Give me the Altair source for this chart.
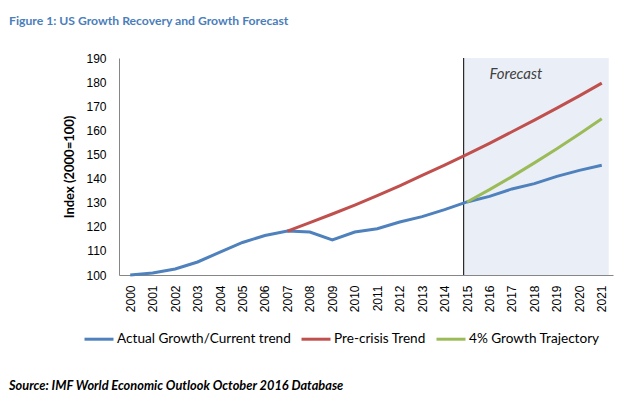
import altair as alt
import pandas as pd

years = list(range(2000, 2022))
actual = [100.0, 100.8, 102.5, 105.4, 109.5, 113.5, 116.4, 118.2, 117.8, 114.6, 117.8,
          119.2, 122.0, 124.2, 127.1, 130.3, 132.6, 135.7, 137.9, 140.9, 143.4, 145.5]
precrisis_years = list(range(2007, 2022))
precrisis = [118.2, 121.7, 125.3, 129.0, 132.9, 137.0, 141.3, 145.6, 150.0, 154.6,
             159.4, 164.2, 169.2, 174.3, 179.6]
growth_years = list(range(2015, 2022))
growth4 = [130.3, 135.4, 140.8, 146.5, 152.4, 158.5, 164.8]
y_ticks = list(range(100, 191, 10))

series_names = ["Actual Growth/Current trend", "Pre-crisis Trend", "4% Growth Trajectory"]
series_colors = ["#4F81BD", "#C0504D", "#9BBB59"]

title_text = "Figure 1: US Growth Recovery and Growth Forecast"
source_text = "Source: IMF World Economic Outlook October 2016 Database"
forecast_label = "Forecast"

rows = []
for y, v in zip(years, actual):
    rows.append({"year": y, "value": v, "series": series_names[0]})
for y, v in zip(precrisis_years, precrisis):
    rows.append({"year": y, "value": v, "series": series_names[1]})
for y, v in zip(growth_years, growth4):
    rows.append({"year": y, "value": v, "series": series_names[2]})
df = pd.DataFrame(rows)

FONT = "Lato"
AXFONT = "Liberation Sans"
W, H = 494, 217

xscale = alt.Scale(domain=[1999.5, 2021.5], nice=False, zero=False)
yscale = alt.Scale(domain=[100, 190], nice=False, zero=False)

x_axis = alt.Axis(
    values=years, format="d", labelAngle=270, grid=False, ticks=False,
    domainColor="#868686", labelFont=AXFONT, labelFontSize=12, labelColor="#000000",
    labelPadding=10, title=None, labelFlush=False, labelOverlap=False,
)
y_axis = alt.Axis(
    values=y_ticks, format="d", grid=False, ticks=False, labelOverlap=False,
    domainColor="#868686", labelFont=AXFONT, labelFontSize=12, labelColor="#000000",
    labelPadding=13, title="Index (2000=100)", titleFont=FONT, titleFontSize=13,
    titleFontWeight="bold", titleColor="#000000", titlePadding=9,
)

shade = alt.Chart(pd.DataFrame({"x": [2014.85], "x2": [2021.31], "y": [100], "y2": [190]})).mark_rect(
    color="#EAEFF7"
).encode(
    x=alt.X("x:Q", scale=xscale, axis=x_axis),
    x2="x2:Q",
    y=alt.Y("y:Q", scale=yscale, axis=y_axis),
    y2="y2:Q",
)

vline = alt.Chart(pd.DataFrame({"x": [2014.85], "y": [100], "y2": [190]})).mark_rule(
    color="#000000", strokeWidth=1
).encode(
    x=alt.X("x:Q", scale=xscale, axis=x_axis),
    y=alt.Y("y:Q", scale=yscale, axis=y_axis),
    y2="y2:Q",
)

lines = alt.Chart(df).mark_line(strokeWidth=3).encode(
    x=alt.X("year:Q", scale=xscale, axis=x_axis),
    y=alt.Y("value:Q", scale=yscale, axis=y_axis),
    color=alt.Color(
        "series:N",
        scale=alt.Scale(domain=series_names, range=series_colors),
        legend=alt.Legend(
            title=None, orient="none", direction="horizontal", legendX=-36, legendY=265,
            symbolType="stroke", symbolSize=841, symbolStrokeWidth=3,
            labelFont=FONT, labelFontSize=13.6, labelColor="#000000",
            labelOffset=2, columnPadding=4, labelLimit=0,
        ),
    ),
)

forecast = alt.Chart(pd.DataFrame({"x": [2016.0], "y": [183.5], "t": [forecast_label]})).mark_text(
    align="left", baseline="middle", font=FONT, fontSize=15, fontStyle="italic", color="#404040"
).encode(x=alt.X("x:Q", scale=xscale, axis=x_axis), y=alt.Y("y:Q", scale=yscale, axis=y_axis), text="t:N")

title = alt.Chart(pd.DataFrame({"t": [title_text]})).mark_text(
    align="left", baseline="middle", font=FONT, fontSize=12.2, fontWeight="bold", color="#4A7EBB"
).encode(x=alt.value(-110), y=alt.value(-37), text="t:N")

source = alt.Chart(pd.DataFrame({"t": [source_text]})).mark_text(
    align="left", baseline="middle", font=FONT, fontSize=12.8, fontWeight="bold",
    fontStyle="italic", color="#000000"
).encode(x=alt.value(-110), y=alt.value(328), text="t:N")

chart = alt.layer(shade, vline, lines, forecast, title, source).properties(
    width=W, height=H,
    autosize=alt.AutoSizeParams(type="none"),
    padding={"left": 111, "top": 50, "right": 3, "bottom": 121},
).configure(background="#ffffff").configure_view(stroke=None)

chart.save("out.html", embed_options={"renderer": "svg", "actions": False})
